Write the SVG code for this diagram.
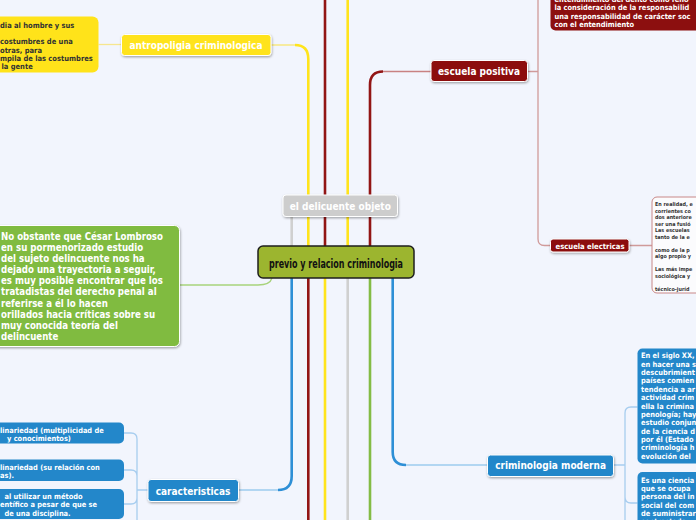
<svg xmlns="http://www.w3.org/2000/svg" width="696" height="520" viewBox="0 0 696 520">
<defs>
<filter id="sh" x="-20%" y="-30%" width="140%" height="170%">
<feDropShadow dx="0.6" dy="1.2" stdDeviation="0.8" flood-color="#000" flood-opacity="0.35"/>
</filter>
<style>
text{font-family:'DejaVu Sans Condensed','DejaVu Sans',sans-serif;font-stretch:condensed;font-weight:bold}
.lbl{fill:#fff;font-size:10px;text-anchor:middle}
.w{fill:#fff}
.dk{fill:#333}
.main{fill:none;stroke-width:2.6;stroke-linecap:butt}
.sub{fill:none;stroke-width:1.3}
.red{stroke:#921515}
.yel{stroke:#ffe41c}
.gry{stroke:#d0d0d0}
.grn{stroke:#84bc45}
.blu{stroke:#2e8fd6}
.nb{stroke:#fff;stroke-width:1}
</style>
</defs>
<rect x="0" y="0" width="696" height="520" fill="#f2f5fd"/>
<g id="connectors">
<path class="main yel" d="M308.3,246 V59 Q308.3,45 295,45"/>
<path class="sub" stroke="#f8e56e" stroke-width="1.6" d="M295,45 H271"/>
<path class="main red" d="M325,246 V0"/>
<path class="main yel" d="M347.7,246 V0"/>
<path class="main red" d="M370,246 V85 Q370,71.5 383,71.5"/>
<path class="sub" stroke="#c98282" stroke-width="1.5" d="M383,71.5 H431"/>
<path class="main gry" d="M291.7,246 V216.5"/>
<path class="main blu" d="M291.7,278 V476 Q291.7,490 278,490"/>
<path class="sub" stroke="#9ccbee" stroke-width="1.6" d="M278,490 H238.5"/>
<path class="main red" d="M308.3,278 V520"/>
<path class="main yel" d="M325,278 V520"/>
<path class="main gry" d="M347.7,278 V520"/>
<path class="main grn" d="M370,278 V520"/>
<path class="main blu" d="M392.7,278 V452 Q392.7,465 406,465"/>
<path class="sub" stroke="#9ccbee" stroke-width="1.6" d="M406,465 H487.5"/>
<path class="sub" stroke="#a8d37c" stroke-width="1.8" d="M272,278 Q270,285 258,285 H180"/>
<path class="sub" stroke="#f6e68f" d="M98.5,44.5 H121.5"/>
<path class="sub" stroke="#d09a9a" d="M527.5,71.5 H538 M538,0 V239 Q538,245.5 544.5,245.5 H550.5 M629,245.5 H652"/>
<path class="sub" stroke="#a7cdef" d="M148,490 H137 M124,433 H131 Q137,433 137,439 V520 M124,470 H131 Q137,470 137,476 M124,504 H131 Q137,504 137,498"/>
<path class="sub" stroke="#a7cdef" d="M613.5,465 H625 M637.5,407 H631 Q625,407 625,413 V520 M637.5,503 H631 Q625,503 625,497"/>
</g>
<g id="center">
<rect x="258" y="246" width="156" height="32" rx="5" fill="#9cb52f" stroke="#1e1e1e" stroke-width="1.5"/>
<text x="336" y="268" font-size="12" text-anchor="middle" fill="#111" textLength="134" lengthAdjust="spacingAndGlyphs" style="font-weight:600">previo y relacion criminologia</text>
</g>
<g id="antropologia">
<rect x="121.5" y="34.5" width="149.5" height="21" rx="3" fill="#ffe31a" class="nb" filter="url(#sh)"/>
<text class="lbl" x="196" y="49.3">antropoligia criminologica</text>
</g>
<g id="antropologia-nota">
<rect x="-10" y="16.5" width="108.5" height="56" rx="6" fill="#ffe31a"/>
<g font-size="7.5" class="dk">
<text x="0" y="27.7" class="dk">dia al hombre y sus</text>
<text x="0" y="44.4" class="dk">costumbres de una</text>
<text x="0" y="52.7" class="dk">otras, para</text>
<text x="0" y="61.1" class="dk">mpila de las costumbres</text>
<text x="1.5" y="69.4" class="dk">la gente</text>
</g>
</g>
<g id="delicuente">
<rect x="283" y="195" width="114.5" height="21.5" rx="3" fill="#cdcdcd" class="nb" filter="url(#sh)"/>
<text class="lbl" x="340.3" y="209.6">el delicuente objeto</text>
</g>
<g id="lombroso">
<rect x="-10" y="225.5" width="189.5" height="121" rx="5" fill="#80bb41" class="nb" filter="url(#sh)"/>
<g font-size="9.6">
<text class="w" x="1" y="240.2">No obstante que César Lombroso</text>
<text class="w" x="1" y="251.2">en su pormenorizado estudio</text>
<text class="w" x="1" y="262.3">del sujeto delincuente nos ha</text>
<text class="w" x="1" y="273.3">dejado una trayectoria a seguir,</text>
<text class="w" x="1" y="284.4">es muy posible encontrar que los</text>
<text class="w" x="1" y="295.4">tratadistas del derecho penal al</text>
<text class="w" x="1" y="306.5">referirse a él lo hacen</text>
<text class="w" x="1" y="317.5">orillados hacia críticas sobre su</text>
<text class="w" x="1" y="328.6">muy conocida teoría del</text>
<text class="w" x="1" y="339.6">delincuente</text>
</g>
</g>
<g id="escuela-positiva">
<rect x="431" y="60.5" width="96.5" height="21" rx="3" fill="#8c0f0f" class="nb" filter="url(#sh)"/>
<text class="lbl" x="479" y="75.3">escuela positiva</text>
</g>
<g id="positiva-nota">
<rect x="550.5" y="-20" width="160" height="50.5" rx="5" fill="#8c0f0f"/>
<g font-size="7.4">
<text class="w" x="554.5" y="1.5">entendimiento del delito como fenó</text>
<text class="w" x="554.5" y="10">la consideración de la responsabilid</text>
<text class="w" x="554.5" y="18.6">una responsabilidad de carácter soc</text>
<text class="w" x="554.5" y="27.1">con el entendimiento</text>
</g>
</g>
<g id="escuela-electricas">
<rect x="550.5" y="239" width="78.5" height="13" rx="2.5" fill="#8c0f0f" class="nb" filter="url(#sh)"/>
<text class="lbl" x="590" y="249.4" style="font-size:7.6px">escuela electricas</text>
</g>
<g id="electricas-nota">
<rect x="652" y="197" width="60" height="96" rx="5" fill="#fbfbfd" stroke="#c98888" stroke-width="1"/>
<g font-size="5.4">
<text class="dk" x="655" y="206">En realidad, e</text>
<text class="dk" x="655" y="212.5">corrientes co</text>
<text class="dk" x="655" y="219">dos anteriore</text>
<text class="dk" x="655" y="225.5">ser una fusió</text>
<text class="dk" x="655" y="232">Las escuelas</text>
<text class="dk" x="655" y="238.5">tanto de la e</text>
<text class="dk" x="655" y="251.5">como de la p</text>
<text class="dk" x="655" y="258">algo propio y</text>
<text class="dk" x="655" y="271">Las más impe</text>
<text class="dk" x="655" y="277.5">sociológica y</text>
<text class="dk" x="655" y="290.5">técnico-juríd</text>
</g>
</g>
<g id="criminologia-moderna">
<rect x="487.5" y="455" width="126" height="21.5" rx="3" fill="#2387ca" class="nb" filter="url(#sh)"/>
<text class="lbl" x="550.6" y="469.4">criminologia moderna</text>
</g>
<g id="moderna-nota-1">
<rect x="637.5" y="348.5" width="70" height="115" rx="5" fill="#2387ca"/>
<g font-size="7.4">
<text class="w" x="641" y="358.4">En el siglo XX,</text>
<text class="w" x="641" y="366.7">en hacer una s</text>
<text class="w" x="641" y="375.1">descubrimient</text>
<text class="w" x="641" y="383.4">países comien</text>
<text class="w" x="641" y="391.8">tendencia a ar</text>
<text class="w" x="641" y="400.1">actividad crim</text>
<text class="w" x="641" y="408.5">ella la crimina</text>
<text class="w" x="641" y="416.8">penología; hay</text>
<text class="w" x="641" y="425.2">estudio conjun</text>
<text class="w" x="641" y="433.5">de la ciencia d</text>
<text class="w" x="641" y="441.9">por él (Estado</text>
<text class="w" x="641" y="450.2">criminología h</text>
<text class="w" x="641" y="458.6">evolución del</text>
</g>
</g>
<g id="moderna-nota-2">
<rect x="637.5" y="472" width="70" height="62" rx="5" fill="#2387ca"/>
<g font-size="7.4">
<text class="w" x="641" y="482.7">Es una ciencia</text>
<text class="w" x="641" y="491">que se ocupa</text>
<text class="w" x="641" y="499.4">persona del in</text>
<text class="w" x="641" y="507.7">social del com</text>
<text class="w" x="641" y="516.1">de suministrar</text>
<text class="w" x="641" y="524.4">contrastado</text>
</g>
</g>
<g id="caracteristicas">
<rect x="148" y="479.5" width="90.5" height="22" rx="3" fill="#2387ca" class="nb" filter="url(#sh)"/>
<text class="lbl" x="193" y="494.6">caracteristicas</text>
</g>
<g id="caract-1">
<rect x="-10" y="422.5" width="134" height="21" rx="5" fill="#2387ca"/>
<text class="w" font-size="7.4" x="0" y="432.7">linariedad (multiplicidad de</text>
<text class="w" font-size="7.4" x="7" y="441">y conocimientos)</text>
</g>
<g id="caract-2">
<rect x="-10" y="459.5" width="134" height="21.5" rx="5" fill="#2387ca"/>
<text class="w" font-size="7.4" x="0" y="469.6">linariedad (su relación con</text>
<text class="w" font-size="7.4" x="0" y="478.3">as).</text>
</g>
<g id="caract-3">
<rect x="-10" y="489" width="134" height="30" rx="5" fill="#2387ca"/>
<text class="w" font-size="7.4" x="4.5" y="498.7">al utilizar un método</text>
<text class="w" font-size="7.4" x="0" y="507">entífico a pesar de que se</text>
<text class="w" font-size="7.4" x="4.5" y="515.8">de una disciplina.</text>
</g>
</svg>
